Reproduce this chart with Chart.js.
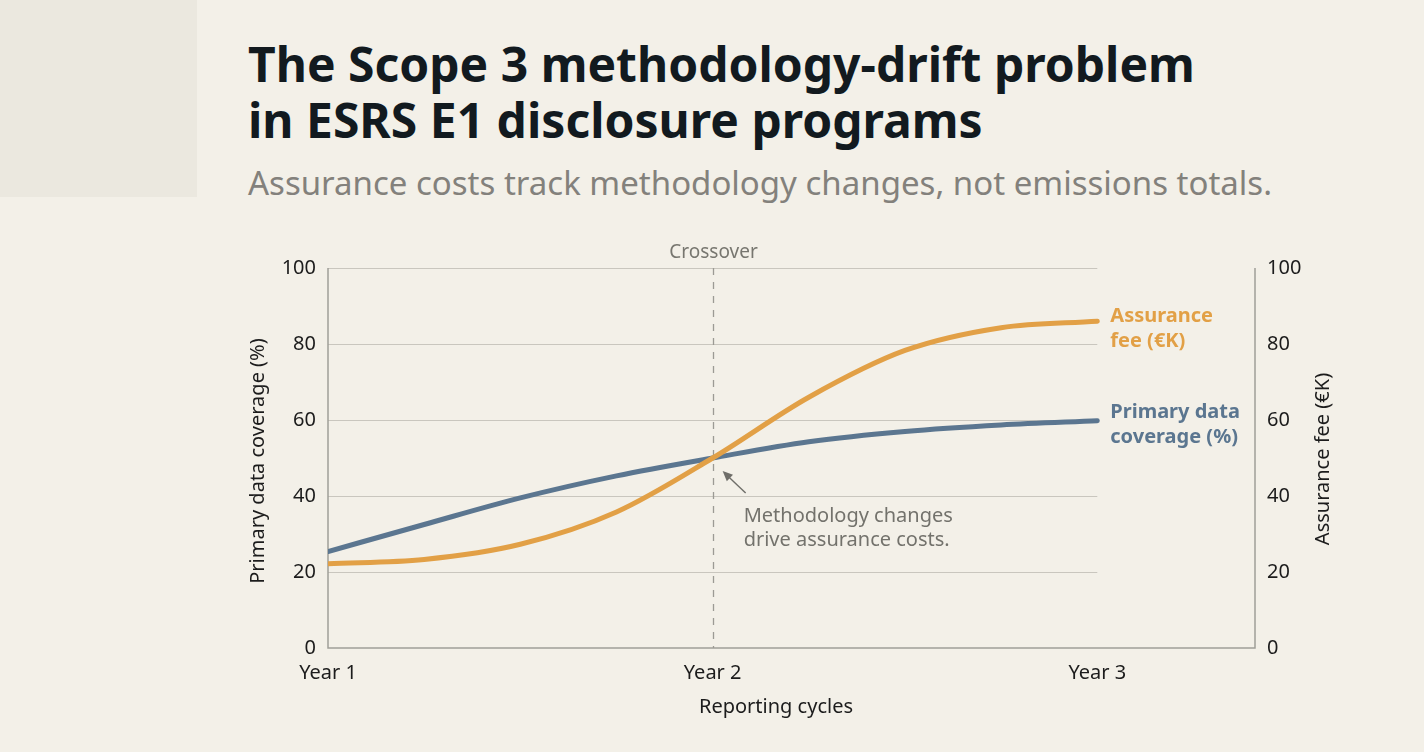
<!DOCTYPE html>
<html>
<head>
<meta charset="utf-8">
<script src="https://cdn.jsdelivr.net/npm/chart.js@4"></script>
<style>
  html, body { margin:0; padding:0; background:#f3f0e8; }
  #wrap { position:relative; width:1424px; height:752px; overflow:hidden; background:#f3f0e8; }
  #corner { position:absolute; left:0; top:0; width:197px; height:197px; background:#ebe8df; }
  #title { position:absolute; left:248px; top:36px; font-family:"Noto Sans", sans-serif; font-weight:700; font-size:48px; line-height:56px; color:#121a1f; letter-spacing:0px; }
  #subtitle { position:absolute; left:248px; top:161px; font-family:"Noto Sans", sans-serif; font-size:33px; line-height:44px; color:#83817c; }
  canvas { position:absolute; left:0; top:0; }
</style>
</head>
<body>
<div id="wrap">
  <div id="corner"></div>
  <div id="title">The Scope 3 methodology-drift problem<br>in ESRS E1 disclosure programs</div>
  <div id="subtitle">Assurance costs track methodology changes, not emissions totals.</div>
  <canvas id="c" width="1424" height="752"></canvas>
</div>
<script>
const cycles = [1, 1.25, 1.5, 1.75, 2, 2.25, 2.5, 2.75, 3];
const cycleLabels = {1: "Year 1", 2: "Year 2", 3: "Year 3"};
const assuranceFee = [22.2, 23.3, 27.3, 35.8, 50.0, 66.0, 78.3, 84.3, 86.0];
const primaryCoverage = [25.4, 32.5, 39.5, 45.3, 50.0, 54.3, 57.0, 58.7, 59.8];
const yTicks = [0, 20, 40, 60, 80, 100];
const crossoverAt = 2;
const xTitle = "Reporting cycles";
const yLeftTitle = "Primary data coverage (%)";
const yRightTitle = "Assurance fee (\u20acK)";

const ORANGE = "#e2a046";
const BLUE = "#5b7690";
const AXIS = "#a09e98";
const GRID = "#c9c6be";
const INK = "#1c1c1c";
const FONT = "'Noto Sans', sans-serif";

const toXY = (vals) => cycles.map((c, i) => ({x: c, y: vals[i]}));

const overlay = {
  id: "overlay",
  beforeDatasetsDraw(chart) {
    const {ctx, chartArea, scales} = chart;
    const x = scales.x, y = scales.y;
    ctx.save();
    ctx.strokeStyle = GRID; ctx.lineWidth = 1.2;
    const xEnd = x.getPixelForValue(3);
    yTicks.forEach(t => {
      if (t === 0) return;
      const py = Math.round(y.getPixelForValue(t)) + 0.5;
      ctx.beginPath(); ctx.moveTo(chartArea.left, py); ctx.lineTo(xEnd, py); ctx.stroke();
    });
    ctx.strokeStyle = AXIS; ctx.lineWidth = 1.5;
    ctx.beginPath();
    ctx.moveTo(chartArea.left, chartArea.top);
    ctx.lineTo(chartArea.left, chartArea.bottom);
    ctx.lineTo(chartArea.right, chartArea.bottom);
    ctx.lineTo(chartArea.right, chartArea.top);
    ctx.stroke();
    const cx = Math.round(x.getPixelForValue(crossoverAt)) + 0.5;
    ctx.strokeStyle = "#9c9a94"; ctx.lineWidth = 1.3; ctx.setLineDash([7, 7]);
    ctx.beginPath(); ctx.moveTo(cx, chartArea.top); ctx.lineTo(cx, chartArea.bottom); ctx.stroke();
    ctx.setLineDash([]);
    ctx.fillStyle = "#77766f"; ctx.font = "19px " + FONT;
    ctx.textAlign = "center"; ctx.textBaseline = "alphabetic";
    ctx.fillText("Crossover", cx, chartArea.top - 10);
    // axis titles
    ctx.fillStyle = INK; ctx.font = "20px " + FONT; ctx.textBaseline = "middle";
    const midY = (chartArea.top + chartArea.bottom) / 2 + 3;
    ctx.fillText(xTitle, chartArea.left + 448, chartArea.bottom + 59);
    ctx.save(); ctx.translate(chartArea.left - 70, midY); ctx.rotate(-Math.PI / 2);
    ctx.fillText(yLeftTitle, 0, 0); ctx.restore();
    ctx.save(); ctx.translate(chartArea.right + 68, midY - 2); ctx.rotate(-Math.PI / 2);
    ctx.fillText(yRightTitle, 0, 0); ctx.restore();
    ctx.restore();
  },
  afterDatasetsDraw(chart) {
    const {ctx, scales} = chart;
    const x = scales.x, y = scales.y;
    ctx.save();
    const ax = x.getPixelForValue(crossoverAt) + 10;
    const ay = y.getPixelForValue(50) + 13;
    const bx = ax + 23, by = ay + 22;
    ctx.strokeStyle = "#6f6e69"; ctx.fillStyle = "#6f6e69"; ctx.lineWidth = 1.4;
    ctx.beginPath(); ctx.moveTo(bx, by); ctx.lineTo(ax + 4, ay + 4); ctx.stroke();
    const ang = Math.atan2(ay - by, ax - bx);
    ctx.beginPath();
    ctx.moveTo(ax, ay);
    ctx.lineTo(ax - 11 * Math.cos(ang - 0.42), ay - 11 * Math.sin(ang - 0.42));
    ctx.lineTo(ax - 11 * Math.cos(ang + 0.42), ay - 11 * Math.sin(ang + 0.42));
    ctx.closePath(); ctx.fill();
    ctx.fillStyle = "#73726c"; ctx.font = "20px " + FONT;
    ctx.textAlign = "left"; ctx.textBaseline = "middle";
    ctx.fillText("Methodology changes", bx - 2, by + 23);
    ctx.fillText("drive assurance costs.", bx - 2, by + 47);
    const lx = x.getPixelForValue(3) + 13;
    ctx.font = "bold 20px " + FONT;
    ctx.fillStyle = ORANGE;
    const oy = y.getPixelForValue(assuranceFee[assuranceFee.length - 1]);
    ctx.fillText("Assurance", lx, oy - 5);
    ctx.fillText("fee (\u20acK)", lx, oy + 20);
    ctx.fillStyle = BLUE;
    const by2 = y.getPixelForValue(primaryCoverage[primaryCoverage.length - 1]);
    ctx.fillText("Primary data", lx, by2 - 8);
    ctx.fillText("coverage (%)", lx, by2 + 17);
    ctx.restore();
  }
};

new Chart(document.getElementById("c"), {
  type: "line",
  data: {
    datasets: [
      { label: "Assurance fee (\u20acK)", data: toXY(assuranceFee), yAxisID: "y2",
        borderColor: ORANGE, borderWidth: 5, pointRadius: 0, cubicInterpolationMode: "monotone", borderCapStyle: "round", fill: false },
      { label: "Primary data coverage (%)", data: toXY(primaryCoverage), yAxisID: "y",
        borderColor: BLUE, borderWidth: 5, pointRadius: 0, cubicInterpolationMode: "monotone", borderCapStyle: "round", fill: false }
    ]
  },
  options: {
    responsive: false, animation: false, devicePixelRatio: 1,
    layout: { padding: { top: 268, left: 0, right: 0, bottom: 0 } },
    plugins: { legend: { display: false }, tooltip: { enabled: false } },
    scales: {
      x: {
        type: "linear", min: 1, max: 3.41,
        afterBuildTicks: (s) => { s.ticks = [1, 2, 3].map(v => ({value: v})); },
        afterFit: (s) => { s.height = 104; },
        grid: { display: false, drawTicks: false }, border: { display: false },
        ticks: { color: INK, font: { family: FONT, size: 20 }, padding: 13, maxRotation: 0,
                 callback: (v) => cycleLabels[v] || "" }
      },
      y: {
        position: "left", min: 0, max: 100,
        afterBuildTicks: (s) => { s.ticks = yTicks.map(v => ({value: v})); },
        afterFit: (s) => { s.width = 328; },
        grid: { display: false, drawTicks: false }, border: { display: false },
        ticks: { color: INK, font: { family: FONT, size: 20 }, padding: 12 }
      },
      y2: {
        position: "right", min: 0, max: 100,
        afterBuildTicks: (s) => { s.ticks = yTicks.map(v => ({value: v})); },
        afterFit: (s) => { s.width = 169; },
        grid: { display: false, drawTicks: false }, border: { display: false },
        ticks: { color: INK, font: { family: FONT, size: 20 }, padding: 12 }
      }
    }
  },
  plugins: [overlay]
});
</script>
</body>
</html>
